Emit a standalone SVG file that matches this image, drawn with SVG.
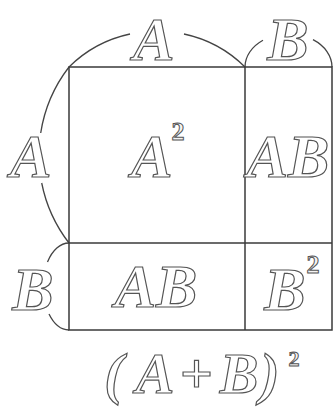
<svg xmlns="http://www.w3.org/2000/svg" width="333" height="407" viewBox="0 0 333 407">
<style>
.bg{fill:#ffffff}
.ln{fill:none;stroke:#3a3a3a;stroke-width:1.5}
.arc{fill:none;stroke:#444;stroke-width:1.3}
.t{font-family:"Liberation Serif","Times New Roman",serif;font-style:italic;font-weight:bold;font-size:62px;fill:#ffffff;stroke:#555;stroke-width:1.2;text-anchor:middle}
.sup{font-family:"Liberation Serif","Times New Roman",serif;font-weight:bold;font-size:26px;fill:#f4f4f4;stroke:#555;stroke-width:1;text-anchor:middle}
</style>
<rect class="bg" x="0" y="0" width="333" height="407"/>
<g id="connectors">
<path class="arc" d="M69,67 A123,123 0 0,1 130,34"/>
<path class="arc" d="M184,34 A123,123 0 0,1 245,67"/>
<path class="arc" d="M245,67 A43.5,33 0 0,1 263,40.3"/>
<path class="arc" d="M313,39.7 A43.5,33 0 0,1 332,67"/>
<path class="arc" d="M69,67 A144,144 0 0,0 40.7,133"/>
<path class="arc" d="M41.7,183 A144,144 0 0,0 69,243"/>
<path class="arc" d="M69,243 A26,43.5 0 0,0 47.5,262"/>
<path class="arc" d="M49,314 A26,43.5 0 0,0 69,330"/>
</g>
<g id="grid">
<rect class="ln" x="69" y="67" width="263" height="263"/>
<line class="ln" x1="245" y1="67" x2="245" y2="330"/>
<line class="ln" x1="69" y1="243" x2="332" y2="243"/>
</g>
<g id="label-top-A"><text class="t" x="154" y="60">A</text></g>
<g id="label-top-B"><text class="t" x="288" y="60">B</text></g>
<g id="label-left-A"><text class="t" x="31" y="177">A</text></g>
<g id="label-left-B"><text class="t" x="33" y="310">B</text></g>
<g id="cell-A2"><text class="t" x="152" y="177">A</text><text class="sup" x="178" y="140">2</text></g>
<g id="cell-AB-right"><text class="t" x="288" y="177">AB</text></g>
<g id="cell-AB-bottom"><text class="t" x="156" y="307">AB</text></g>
<g id="cell-B2"><text class="t" x="285" y="310">B</text><text class="sup" x="313" y="273">2</text></g>
<g id="formula"><text class="t" y="393" style="font-size:58px"><tspan x="114">(</tspan><tspan x="155">A</tspan><tspan x="196">+</tspan><tspan x="239">B</tspan><tspan x="270">)</tspan></text><text class="sup" x="294" y="366" style="font-size:22px">2</text></g>
</svg>
